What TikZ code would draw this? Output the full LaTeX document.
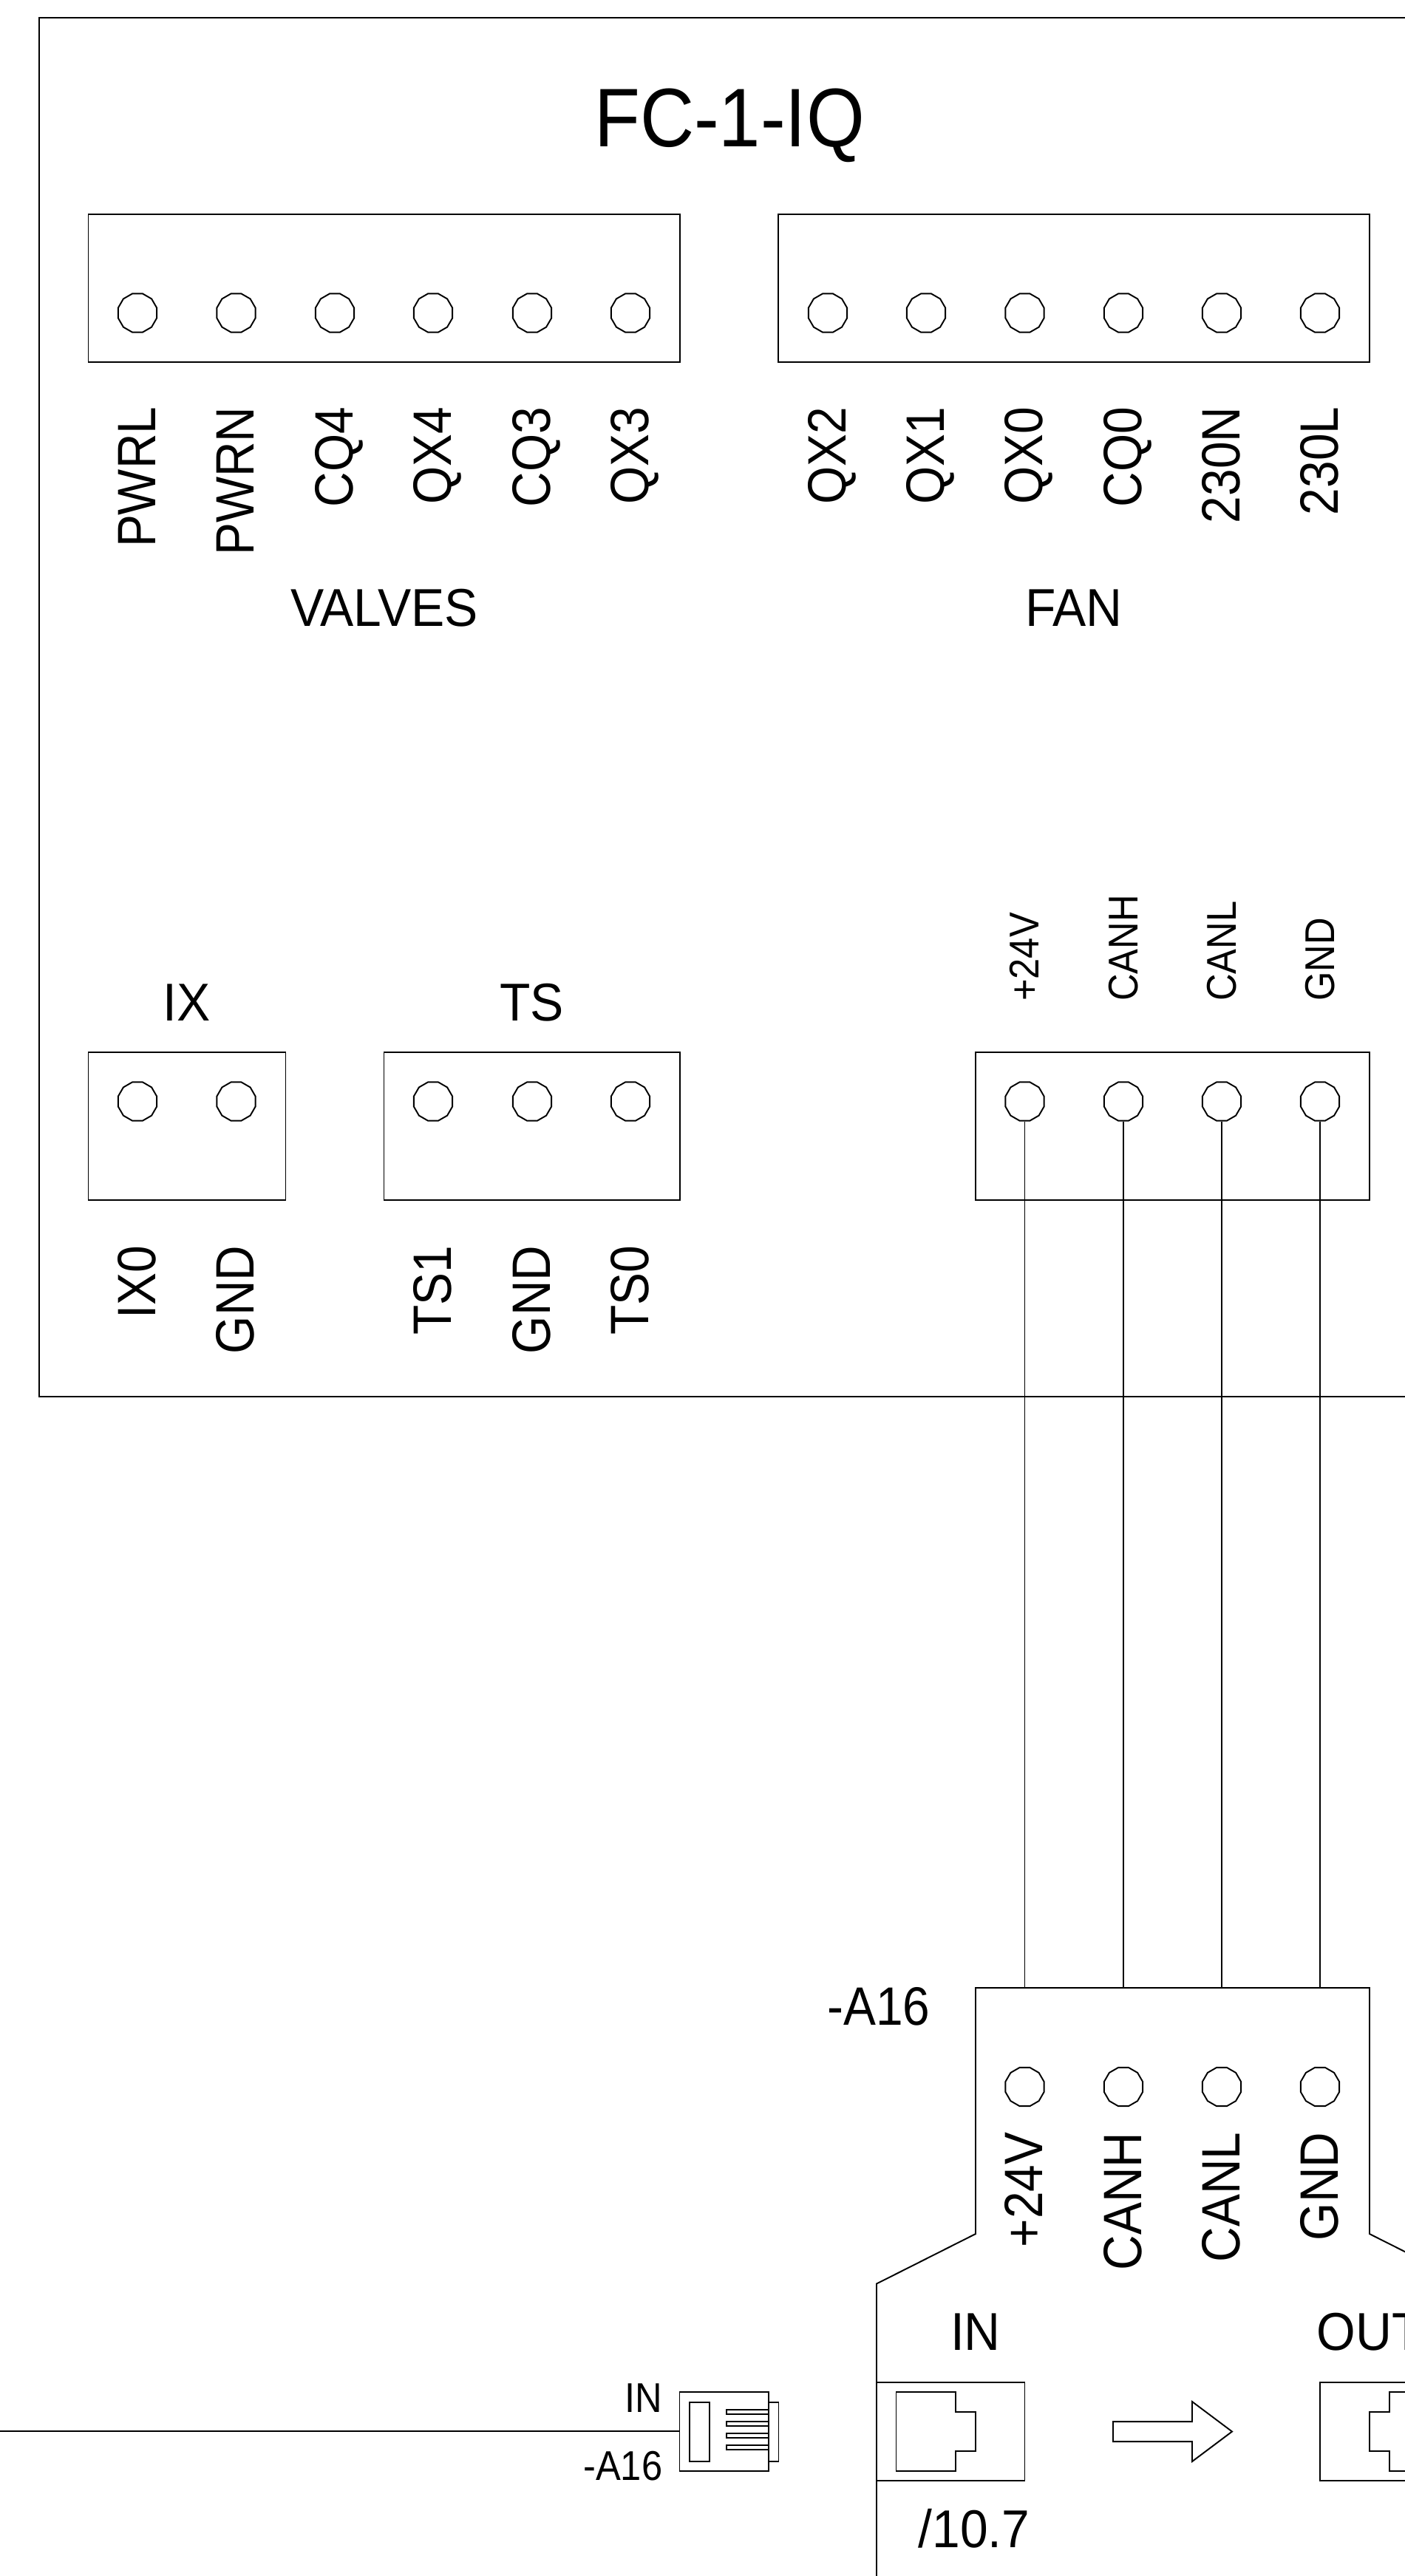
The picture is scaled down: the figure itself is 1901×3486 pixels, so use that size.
\documentclass[tikz,border=0pt]{standalone}
\usepackage{fontspec}
\setmainfont[FakeStretch=0.9]{Liberation Sans}
\newfontfamily\lblfont[FakeStretch=0.94]{Liberation Sans}
\usetikzlibrary{shapes.geometric}

\tikzset{
    wire/.style={line width=0.55pt},
    term/.style={draw,line width=0.55pt,regular polygon,regular polygon sides=12,inner sep=0pt,minimum size=0.54cm},
    lbl/.style={inner sep=0pt,anchor=base,font=\lblfont\fontsize{20.5}{24}\selectfont},
    lblsmall/.style={inner sep=0pt,font=\fontsize{16}{19}\selectfont},
    pinlbl/.style={lbl,rotate=90,anchor=base east,font=\rmfamily\fontsize{20.8}{24}\selectfont},
    toplbl/.style={lblsmall,rotate=90,anchor=base west}
}

\begin{document}
\begin{tikzpicture}[x=0.01cm,y=-0.01cm]
        \useasboundingbox (0,0) rectangle (1901,3486);
        \clip (0,0) rectangle (1901,3486);

        % controller
        \draw[wire] (1930,24) -- (53,24) -- (53,1890) -- (1930,1890);
        \node[lbl,font=\rmfamily\fontsize{32}{38}\selectfont] (title) at (987,198) {FC-1-IQ};

        \draw[wire] (119.5,290) rectangle (920,490);
        \draw[wire] (1053,290) rectangle (1853,490);
        \draw[wire] (119.5,1424) rectangle (386.5,1624);
        \draw[wire] (519.5,1424) rectangle (920,1624);
        \draw[wire] (1320,1424) rectangle (1853,1624);

        \foreach \x/\t [count=\n] in {186/PWRL,319.5/PWRN,453/CQ4,586/QX4,720/CQ3,853/QX3,1120/QX2,1253/QX1,1386.5/QX0,1520/CQ0,1653/230N,1786/230L}{
            \node[term] (top\n) at (\x,423.5) {};
            \node[pinlbl] (toplbl\n) at (\x+24,550) {\t};
        }
        \node[lbl] (valves) at (520,847) {VALVES};
        \node[lbl] (fan) at (1453,847) {FAN};

        \foreach \x/\t [count=\n] in {186/IX0,319.5/GND,586/TS1,720/GND,853/TS0}{
            \node[term] (low\n) at (\x,1490.5) {};
            \node[pinlbl] (lowlbl\n) at (\x+24,1685) {\t};
        }
        \node[lbl] (ix) at (253,1381) {IX};
        \node[lbl] (ts) at (719.5,1381) {TS};

        % module
        \coordinate (a1) at (1386.5,2690);
        \coordinate (a2) at (1520,2690);
        \coordinate (a3) at (1653,2690);
        \coordinate (a4) at (1786,2690);
        \draw[wire] (1186,3500) -- (1186,3090.5) -- (1320,3023) -- (1320,2690) -- (1853,2690) -- (1853,3023) -- (1987,3090.5);
        \node[lbl,font=\rmfamily\fontsize{20.8}{24}\selectfont] (a16) at (1189,2740.5) {-A16};

        \foreach \x/\t [count=\n] in {1386.5/+24V,1520/CANH,1653/CANL,1786/GND}{
            \node[term] (can\n) at (\x,1490.5) {};
            \node[toplbl] (canlbl\n) at (\x+19,1355.5) {\t};
            \node[term] (mod\n) at (\x,2824) {};
            \node[pinlbl] (modlbl\n) at (\x+24,2885) {\t};
            \draw[wire] (can\n.south) -- (a\n);
        }

        % sockets
        \draw[wire] (1186,3224) rectangle (1386.5,3357);
        \draw[wire] (1212.5,3237) -- (1293,3237) -- (1293,3264) -- (1320,3264) -- (1320,3317) -- (1293,3317) -- (1293,3344) -- (1212.5,3344) -- cycle;
        \node[lbl] (in) at (1320,3180.5) {IN};
        \node[lbl] (ref) at (1318,3447) {/10.7};

        \draw[wire] (1930,3224) -- (1786,3224) -- (1786,3357) -- (1930,3357);
        \draw[wire] (1930,3237) -- (1880,3237) -- (1880,3264) -- (1853,3264) -- (1853,3317) -- (1880,3317) -- (1880,3344) -- (1930,3344);
        \node[lbl] (out) at (1853,3180.5) {OUT};

        \draw[wire] (1506,3277) -- (1613,3277) -- (1613,3250) -- (1667,3290.5) -- (1613,3331) -- (1613,3304) -- (1506,3304) -- cycle;

        % plug
        \node[draw,line width=0.55pt,minimum width=1.2cm,minimum height=1.065cm,inner sep=0pt] (plug) at (979.5,3290.3) {};
        \coordinate (cable) at (-10,3290.3);
        \draw[wire] (cable) -- (plug.west);
        \draw[wire] (933,3250.5) rectangle (960,3330.5);
        \draw[wire] (plug.east |- 0,3250.5) -- (1053.5,3250.5) -- (1053.5,3330.5) -- (plug.east |- 0,3330.5);
        \foreach \y in {3261,3277,3293,3309}{
            \draw[wire] (plug.east |- 0,\y) -- (983,\y) -- (983,\y+6) -- (plug.east |- 0,\y+6);
        }
        \node[lblsmall,anchor=base east] (plugin) at (897,3264) {IN};
        \node[lblsmall,anchor=base east] (pluga16) at (897,3356.5) {-A16};
\end{tikzpicture}
\end{document}
